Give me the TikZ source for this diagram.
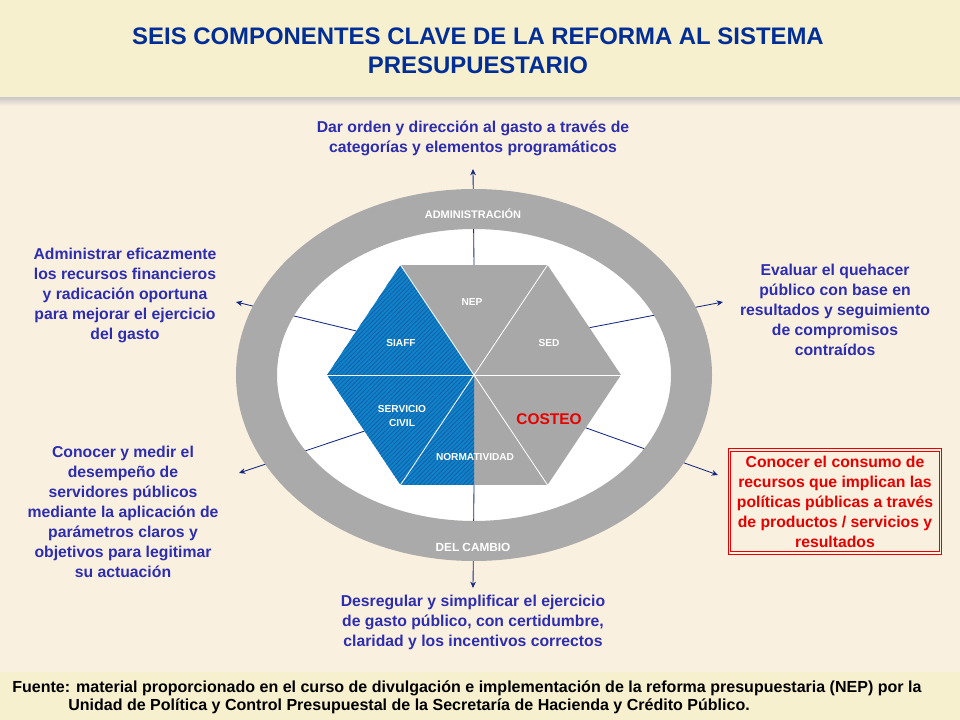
\documentclass[tikz,border=0pt]{standalone}
\usepackage{fontspec}
\setmainfont{Liberation Sans}
\usepackage{tikz}
\usetikzlibrary{calc,arrows.meta,patterns.meta}

\definecolor{fondo}{RGB}{250,240,224}
\definecolor{banda}{RGB}{247,240,206}
\definecolor{titulo}{RGB}{0,45,150}
\definecolor{azultexto}{RGB}{45,45,175}
\definecolor{linea}{RGB}{20,40,130}
\definecolor{anillo}{RGB}{170,170,170}
\definecolor{hexgris}{RGB}{168,168,168}
\definecolor{azul}{RGB}{10,132,204}
\definecolor{raya}{RGB}{30,90,160}
\definecolor{rojo}{RGB}{230,0,0}

\begin{document}
\begin{tikzpicture}[x=0.025cm, y=-0.025cm,
    objetivo/.style = {align=center, text=azultexto, font=\fontsize{11.2}{14.2}\selectfont\bfseries},
    etiqueta/.style = {align=center, text=white, font=\fontsize{7.2}{10.5}\selectfont\bfseries},
    flecha/.style = {draw=linea, line width=0.6pt, -{Stealth[length=4.5pt,width=4pt]}}]
    % fondo
    \path[fill=fondo](0,0)rectangle(960,720);
    \path[use as bounding box](0,0)rectangle(960,720);
    % banda del titulo
    \path[top color=anillo!70, bottom color=fondo](0,96)rectangle(960,106);
    \path[fill=banda](0,0)rectangle(960,97);
    \node[align=center, text=titulo, font=\fontsize{17}{20.6}\selectfont\bfseries](titulo)at(478,51)
        {SEIS COMPONENTES CLAVE DE LA REFORMA AL SISTEMA\\PRESUPUESTARIO};
    % banda de la fuente
    \path[fill=banda](0,672)rectangle(960,720);

    % elipse
    \coordinate(C)at(474,375);
    \path[fill=white](C)ellipse(197 and 146);
    % hexagono
    \foreach \i in {0,...,5}
        \coordinate(h\i)at($(C)+(\i*60:147 and 127)$);
    \coordinate(m)at($(h1)!0.5!(h2)$);
    % salidas de las flechas
    \coordinate(s1)at($(h4)!0.5!(h5)$);
    \coordinate(s2)at($(h0)!0.43!(h5)$);
    \coordinate(s3)at($(h0)!0.48!(h1)$);
    \coordinate(s4)at($(h1)!0.5!(h2)$);
    \coordinate(s5)at($(h3)!0.51!(h2)$);
    \coordinate(s6)at($(h3)!0.4!(h4)$);
    % puntas
    \coordinate(t1)at(473,169);
    \coordinate(t2)at(723,302);
    \coordinate(t3)at(718,475);
    \coordinate(t4)at(473,588);
    \coordinate(t5)at(239,473);
    \coordinate(t6)at(236,302);
    \foreach \i in {1,...,6}
        \path[flecha](s\i)--(t\i);
    % anillo
    \path[fill=anillo, even odd rule](C)ellipse(238 and 186)(C)ellipse(197 and 146);
    \node[etiqueta, font=\fontsize{7.8}{9}\selectfont\bfseries](admin)at(473,214){ADMINISTRACIÓN};
    \node[etiqueta, font=\fontsize{8.4}{9}\selectfont\bfseries](cambio)at(473,547){DEL CAMBIO};

    % componentes
    \path[fill=hexgris](C)--(h4)--(h5)--(h0)--(h1)--(m)--cycle;
    \path[fill=azul](C)--(m)--(h2)--(h3)--(h4)--cycle;
    \path[pattern={Lines[angle=45,distance=2.2pt,line width=0.6pt]}, pattern color=raya]
        (C)--(m)--(h2)--(h3)--(h4)--cycle;
    \foreach \i in {0,...,5}
        \path[draw=white, line width=0.6pt](C)--(h\i);
    \node[etiqueta](nep)at(472,302){NEP};
    \node[etiqueta](siaff)at(401,343){SIAFF};
    \node[etiqueta](sed)at(549,343){SED};
    \node[etiqueta](civil)at(402,416){SERVICIO\\CIVIL};
    \node[etiqueta](norma)at(475,457){NORMATIVIDAD};
    \node[align=center, text=rojo, font=\fontsize{11}{12}\selectfont\bfseries](costeo)at(549,419){COSTEO};

    % objetivos
    \node[objetivo](orden)at(473,138){Dar orden y dirección al gasto a través de\\categorías y elementos programáticos};
    \node[objetivo](evaluar)at(835,310){Evaluar el quehacer\\público con base en\\resultados y seguimiento\\de compromisos\\contraídos};
    \node[objetivo, text=rojo, draw=rojo, double=fondo, line width=0.7pt, double distance=1.3pt,
        minimum width=150pt, minimum height=73pt](consumo)at(835,501.5)
        {Conocer el consumo de\\recursos que implican las\\políticas públicas a través\\de productos / servicios y\\resultados};
    \node[objetivo](desregular)at(473,622){Desregular y simplificar el ejercicio\\de gasto público, con certidumbre,\\claridad y los incentivos correctos};
    \node[objetivo](desempeno)at(123,512){Conocer y medir el\\desempeño de\\servidores públicos\\mediante la aplicación de\\parámetros claros y\\objetivos para legitimar\\su actuación};
    \node[objetivo](recursos)at(125,295.5){Administrar eficazmente\\los recursos financieros\\y radicación oportuna\\para mejorar el ejercicio\\del gasto};

    % fuente
    \node[anchor=base west, inner sep=0pt, font=\fontsize{11.4}{13}\selectfont\bfseries](fuente)at(12,692)
        {Fuente: material proporcionado en el curso de divulgación e implementación de la reforma presupuestaria (NEP) por la};
    \node[anchor=base west, inner sep=0pt, font=\fontsize{11.4}{13}\selectfont\bfseries](unidad)at(68,710)
        {Unidad de Política y Control Presupuestal de la Secretaría de Hacienda y Crédito Público.};
\end{tikzpicture}
\end{document}
